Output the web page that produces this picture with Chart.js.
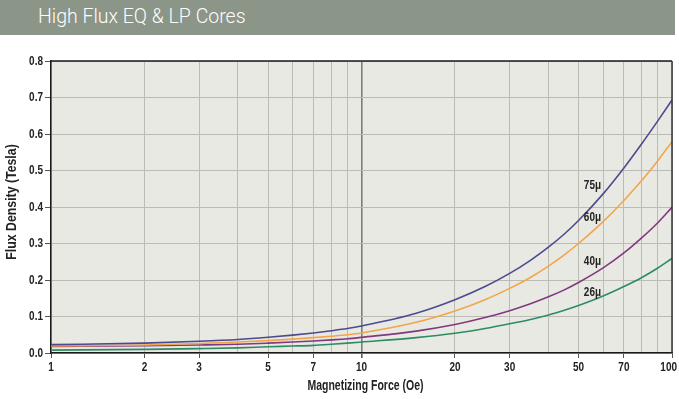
<!DOCTYPE html>
<html><head><meta charset="utf-8">
<script src="https://cdn.jsdelivr.net/npm/chart.js@4/dist/chart.umd.min.js"></script>
<style>
html,body{margin:0;padding:0;background:#fff;width:679px;height:399px;overflow:hidden}
#hdr{position:absolute;left:0;top:0;width:675px;height:35px;background:#8b9588;}
#hdr span{position:absolute;left:38px;top:5px;font:300 19.5px Roboto,'Liberation Sans',Arial,sans-serif;color:#fff}
#wrap{position:absolute;left:0;top:0;width:679px;height:399px}
</style></head><body>
<div id="hdr"><span>High Flux EQ &amp; LP Cores</span></div>
<div id="wrap"><canvas id="c" width="679" height="399"></canvas></div>
<script>
// Magnetizing force (Oe)
const forceOe = [1, 2, 3, 4, 5, 6, 7, 8, 9, 10, 15, 20, 25, 30, 35, 40, 45, 50, 60, 70, 80, 90, 100];
// Flux density (Tesla) per permeability
const perm75 = [0.023, 0.027, 0.032, 0.037, 0.043, 0.049, 0.055, 0.061, 0.067, 0.074, 0.109, 0.146, 0.182, 0.218, 0.254, 0.290, 0.326, 0.363, 0.436, 0.507, 0.574, 0.636, 0.693];
const perm60 = [0.019, 0.022, 0.026, 0.030, 0.034, 0.038, 0.042, 0.046, 0.050, 0.055, 0.084, 0.115, 0.146, 0.177, 0.207, 0.238, 0.269, 0.300, 0.360, 0.418, 0.473, 0.527, 0.579];
const perm40 = [0.018, 0.020, 0.022, 0.024, 0.027, 0.030, 0.033, 0.036, 0.039, 0.043, 0.060, 0.078, 0.097, 0.116, 0.135, 0.154, 0.173, 0.193, 0.233, 0.274, 0.316, 0.357, 0.399];
const perm26 = [0.008, 0.010, 0.012, 0.014, 0.017, 0.019, 0.021, 0.024, 0.027, 0.030, 0.042, 0.054, 0.067, 0.080, 0.092, 0.104, 0.117, 0.130, 0.156, 0.182, 0.207, 0.233, 0.259];
const seriesNames = ['75μ', '60μ', '40μ', '26μ'];
const seriesColors = ['#4b4b8e', '#f2a54b', '#80387f', '#2f8a66'];
// x grid lines and labelled ticks
const xGrid = [1,2,3,4,5,6,7,8,9,10,20,30,40,50,60,70,80,90,100];
const xLabels = [1,2,3,5,7,10,20,30,50,70,100];
// curve label anchor positions (data units)
const labelX = [52, 52, 52, 52];
const labelY = [0.46, 0.372, 0.25, 0.167];
const xTitle = 'Magnetizing Force (Oe)';
const yTitle = 'Flux Density (Tesla)';

const FONT = "'Liberation Sans',Arial,sans-serif";
const allSeries = [perm75, perm60, perm40, perm26];
const datasets = allSeries.map((s, i) => ({
  label: seriesNames[i],
  data: forceOe.map((x, j) => ({x: x, y: s[j]})),
  borderColor: seriesColors[i],
  borderWidth: 1.6,
  pointRadius: 0,
  fill: false,
  cubicInterpolationMode: 'monotone'
}));

function txt(ctx, s, x, y, align, sx, font, rot) {
  ctx.save();
  ctx.font = font;
  ctx.translate(x, y);
  if (rot) ctx.rotate(rot);
  ctx.scale(sx, 1);
  ctx.textAlign = align;
  ctx.textBaseline = 'middle';
  ctx.fillText(s, 0, 0);
  ctx.restore();
}

const bgPlugin = {
  id: 'bg',
  beforeDraw(chart) {
    const {ctx, chartArea: a} = chart;
    ctx.save();
    ctx.fillStyle = '#e9e9e4';
    ctx.fillRect(a.left, a.top, a.right - a.left, a.bottom - a.top);
    ctx.restore();
  },
  afterDraw(chart) {
    const {ctx, chartArea: a, scales} = chart;
    ctx.save();
    ctx.lineWidth = 1.5;
    ctx.strokeStyle = '#1a1a1a';
    ctx.beginPath(); ctx.moveTo(a.left, a.top); ctx.lineTo(a.right, a.top); ctx.stroke();
    ctx.strokeStyle = '#333';
    ctx.beginPath(); ctx.moveTo(a.right, a.top); ctx.lineTo(a.right, a.bottom); ctx.stroke();
    ctx.fillStyle = '#222';
    const tf = 'bold 13.5px ' + FONT;
    const sx = 0.74;
    // y tick labels
    scales.y.ticks.forEach(t => {
      txt(ctx, Number(t.value).toFixed(1), 43, scales.y.getPixelForValue(t.value), 'right', sx, tf);
    });
    // x tick labels
    ctx.font = tf;
    xLabels.forEach(v => {
      let px = scales.x.getPixelForValue(v);
      const w = ctx.measureText(String(v)).width * sx;
      if (px + w / 2 > 677) px = 677 - w / 2;
      txt(ctx, String(v), px, 367, 'center', sx, tf);
    });
    // axis titles
    txt(ctx, xTitle, (a.left + a.right) / 2 + 4, 386, 'center', 0.75, 'bold 14px ' + FONT);
    txt(ctx, yTitle, 12, 202, 'center', 0.88, 'bold 14px ' + FONT, -Math.PI / 2);
    ctx.restore();
  },
  afterDatasetsDraw(chart) {
    const {ctx, scales} = chart;
    ctx.save();
    ctx.fillStyle = '#222';
    seriesNames.forEach((n, i) => {
      txt(ctx, n, scales.x.getPixelForValue(labelX[i]), scales.y.getPixelForValue(labelY[i]), 'left', 0.74, 'bold 13.5px ' + FONT);
    });
    ctx.restore();
  }
};

new Chart(document.getElementById('c'), {
  type: 'line',
  data: {datasets},
  plugins: [bgPlugin],
  options: {
    responsive: false,
    animation: false,
    layout: {padding: {top: 61, right: 7, left: 0, bottom: 0}},
    plugins: {legend: {display: false}, tooltip: {enabled: false}},
    scales: {
      x: {
        type: 'logarithmic',
        min: 1, max: 100,
        afterBuildTicks(s) { s.ticks = xGrid.map(v => ({value: v})); },
        afterFit(s) { s.height = 46; },
        ticks: {display: false, autoSkip: false, maxRotation: 0},
        grid: {
          color: (c) => c.tick && c.tick.value === 10 ? '#7d7d7a' : '#bcbcb5',
          lineWidth: (c) => c.tick && c.tick.value === 10 ? 1.6 : 1,
          tickColor: (c) => c.tick && xLabels.includes(c.tick.value) ? '#555' : 'rgba(0,0,0,0)',
          tickLength: 5
        },
        border: {color: '#1a1a1a', width: 1.5},
        title: {display: false}
      },
      y: {
        min: 0, max: 0.8,
        afterFit(s) { s.width = 51; },
        ticks: {display: false, stepSize: 0.1},
        grid: {color: '#bcbcb5', lineWidth: 1, tickColor: '#555', tickLength: 6},
        border: {color: '#1a1a1a', width: 1.5},
        title: {display: false}
      }
    }
  }
});
</script>
</body></html>
